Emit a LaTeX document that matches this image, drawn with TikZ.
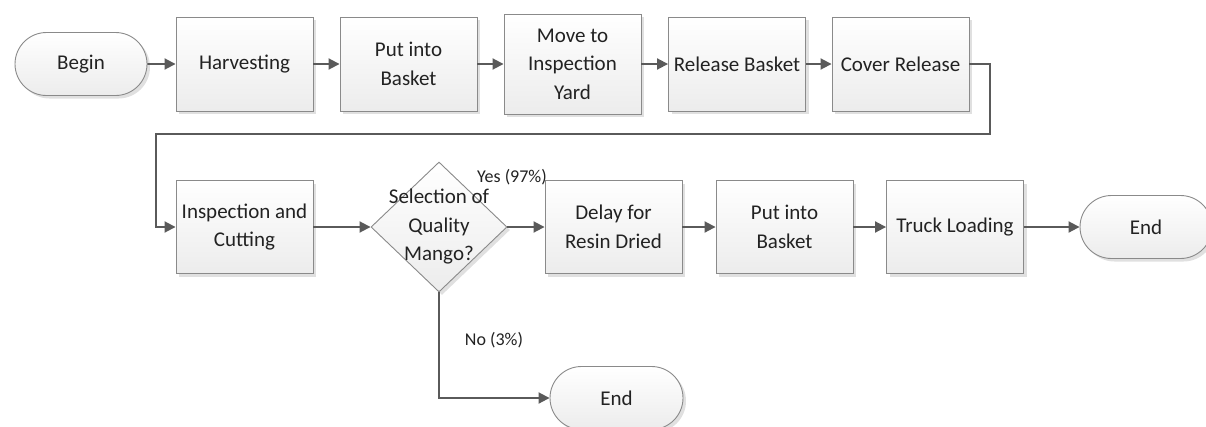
\documentclass[tikz,border=0pt]{standalone}
\usepackage{fontspec}
\setmainfont{Carlito}
\usetikzlibrary{arrows.meta,shapes.geometric,shapes.misc,shadows}
\definecolor{edgegray}{HTML}{5A5A5A}
\definecolor{boxline}{HTML}{8A8A8A}
\definecolor{txtgray}{HTML}{222222}
\definecolor{fillbot}{HTML}{ECECEC}
\tikzset{
  base/.style={draw=boxline, line width=0.9pt, top color=white, bottom color=fillbot,
    text=txtgray, align=center, inner sep=2pt,
    font=\fontsize{21}{28.5}\selectfont,
    drop shadow={shadow xshift=3pt, shadow yshift=-3pt, fill=black!12, opacity=1}},
  process/.style={base, rectangle, minimum width=137pt, minimum height=94pt},
  terminal/.style={base, rounded rectangle, minimum width=136pt, minimum height=63pt},
  decision/.style={base, diamond, inner sep=0pt, minimum width=136pt, minimum height=130pt},
  flow/.style={draw=edgegray, line width=1.9pt, -{Triangle[length=11pt,width=11pt]}},
  lbl/.style={text=txtgray, font=\fontsize{18}{22}\selectfont, inner sep=0pt}
}
\begin{document}
\begin{tikzpicture}[x=1pt,y=-1pt]
\useasboundingbox (0,0) rectangle (1206,426);

% first row
\node[terminal] (begin) at (81,64) {Begin};
\node[process] (harv) at (244.5,64) {Harvesting};
\node[process] (put1) at (408.5,64) {Put into\\Basket};
\node[process, minimum height=100pt] (move) at (572.5,64) {Move to\\Inspection\\Yard};
\node[process] (rel) at (737,64) {Release Basket};
\node[process] (cover) at (900.5,64) {Cover Release};

% second row
\node[process, minimum height=93pt] (insp) at (244.5,227) {Inspection and\\Cutting};
\node[decision] (dec) at (439,227) {};
\node[text=txtgray, align=center, font=\fontsize{21}{28.5}\selectfont] (dectext) at (dec) {Selection of\\Quality\\Mango?};
\node[process, minimum height=93pt] (delay) at (613.5,227) {Delay for\\Resin Dried};
\node[process, minimum height=93pt] (put2) at (784.5,227) {Put into\\Basket};
\node[process, minimum height=93pt] (truck) at (955,227) {Truck Loading};
\node[terminal] (end1) at (1146,227) {End};
\node[terminal, minimum width=137pt] (end2) at (616.5,398) {End};

% routing points of the return line
\coordinate (r1) at (990,64);
\coordinate (r2) at (990,134);
\coordinate (r3) at (156,134);
\coordinate (r4) at (156,227);
\coordinate (d1) at (439,398);

% connectors
\draw[flow] (begin) -- (harv);
\draw[flow] (harv) -- (put1);
\draw[flow] (put1) -- (move);
\draw[flow] (move) -- (rel);
\draw[flow] (rel) -- (cover);
\draw[flow] (cover.east) -- (r1) -- (r2) -- (r3) -- (r4) -- (insp.west);
\draw[flow] (insp) -- (dec);
\draw[flow] (dec.east) -- (delay.west);
\draw[flow] (delay) -- (put2);
\draw[flow] (put2) -- (truck);
\draw[flow] (truck) -- (end1);
\draw[flow] (dec.south) -- (d1) -- (end2.west);

% branch labels
\node[lbl] (yes) at (512,177) {Yes (97\%)};
\node[lbl] (no) at (494,340) {No (3\%)};
\end{tikzpicture}
\end{document}
